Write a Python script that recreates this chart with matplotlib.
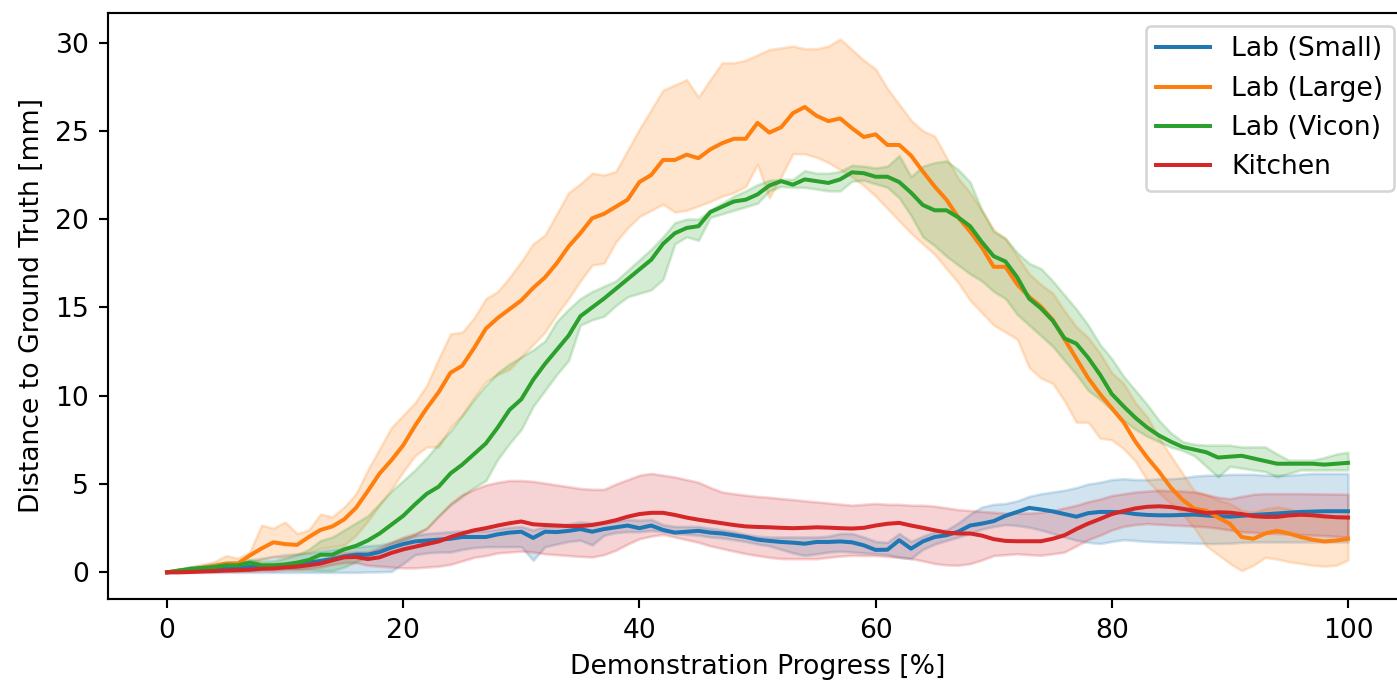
import numpy as np
import matplotlib
matplotlib.use("Agg")
import matplotlib.pyplot as plt

# demonstration progress in percent
progress = list(range(0, 101))

labels = ["Lab (Small)", "Lab (Large)", "Lab (Vicon)", "Kitchen"]
colors = ["tab:blue", "tab:orange", "tab:green", "tab:red"]

# Lab (Small)
small_mean = [0.0, 0.05, 0.1, 0.15, 0.2, 0.2, 0.25, 0.3, 0.3, 0.35,
              0.4, 0.5, 0.55, 0.65, 0.75, 0.9, 1.0, 1.0, 1.15, 1.4,
              1.6, 1.75, 1.8, 1.85, 1.9, 2.0, 2.0, 2.0, 2.15, 2.25,
              2.3, 1.95, 2.3, 2.28, 2.35, 2.45, 2.3, 2.45, 2.55, 2.65,
              2.5, 2.65, 2.4, 2.25, 2.3, 2.35, 2.25, 2.2, 2.1, 2.0,
              1.85, 1.78, 1.72, 1.68, 1.62, 1.72, 1.72, 1.75, 1.7, 1.53,
              1.27, 1.28, 1.82, 1.34, 1.75, 2.0, 2.1, 2.3, 2.65, 2.76,
              2.9, 3.2, 3.42, 3.65, 3.56, 3.45, 3.3, 3.15, 3.35, 3.42,
              3.42, 3.4, 3.3, 3.25, 3.23, 3.23, 3.25, 3.27, 3.22, 3.18,
              3.15, 3.2, 3.25, 3.29, 3.33, 3.38, 3.42, 3.44, 3.46, 3.46, 3.46]
small_upper = [0.0, 0.15, 0.3, 0.4, 0.5, 0.55, 0.6, 0.7, 0.8, 0.9,
               1.0, 1.05, 1.1, 1.2, 1.3, 1.4, 1.45, 1.5, 1.55, 1.7,
               1.9, 2.1, 2.2, 2.25, 2.3, 2.35, 2.35, 2.35, 2.45, 2.55,
               2.6, 2.4, 2.6, 2.6, 2.75, 2.85, 2.8, 2.8, 2.9, 3.0,
               2.95, 3.0, 2.7, 2.6, 2.6, 2.6, 2.5, 2.4, 2.3, 2.15,
               2.05, 2.0, 2.0, 2.0, 2.0, 2.0, 2.05, 2.2, 2.2, 2.0,
               1.75, 1.7, 2.2, 1.75, 2.05, 2.3, 2.4, 2.8, 3.3, 3.7,
               3.85, 3.9, 4.05, 4.3, 4.45, 4.55, 4.65, 4.8, 5.0, 5.1,
               5.25, 5.3, 5.25, 5.25, 5.3, 5.3, 5.35, 5.45, 5.5, 5.5,
               5.55, 5.55, 5.55, 5.5, 5.5, 5.5, 5.55, 5.6, 5.6, 5.6, 5.6]
small_lower = [0.0, 0.0, 0.0, 0.0, 0.0, 0.0, 0.0, 0.0, 0.0, 0.0,
               0.0, 0.0, 0.0, 0.0, 0.0, 0.0, 0.0, 0.02, 0.03, 0.05,
               0.5, 1.0, 1.1, 1.15, 1.15, 1.3, 1.4, 1.45, 1.45, 1.45,
               1.45, 0.68, 1.45, 1.6, 1.75, 1.82, 1.55, 2.1, 2.25, 2.3,
               2.3, 2.37, 2.3, 2.2, 2.15, 2.1, 2.0, 1.95, 1.85, 1.75,
               1.6, 1.5, 1.3, 1.1, 0.96, 1.05, 1.15, 1.2, 1.15, 1.1,
               1.05, 1.0, 0.85, 0.78, 1.3, 1.6, 1.8, 2.0, 2.2, 2.45,
               2.6, 2.7, 2.65, 2.55, 2.4, 2.2, 2.0, 1.82, 1.7, 1.63,
               1.75, 1.85, 1.8, 1.75, 1.72, 1.7, 1.68, 1.65, 1.63, 1.63,
               1.65, 1.7, 1.72, 1.72, 1.72, 1.72, 1.72, 1.72, 1.72, 1.72, 1.72]

# Lab (Large)
large_mean = [0.0, 0.1, 0.15, 0.25, 0.35, 0.5, 0.5, 0.95, 1.35, 1.7,
              1.6, 1.55, 2.0, 2.4, 2.6, 3.0, 3.65, 4.6, 5.6, 6.35,
              7.2, 8.3, 9.3, 10.2, 11.3, 11.7, 12.7, 13.8, 14.4, 14.9,
              15.4, 16.1, 16.7, 17.5, 18.45, 19.2, 20.05, 20.3, 20.7, 21.1,
              22.1, 22.5, 23.35, 23.35, 23.65, 23.45, 23.95, 24.3, 24.55, 24.55,
              25.45, 24.9, 25.2, 26.0, 26.35, 25.85, 25.55, 25.7, 25.15, 24.65,
              24.8, 24.2, 24.2, 23.6, 22.7, 21.85, 21.1, 20.1, 19.3, 18.4,
              17.3, 17.3, 16.3, 15.6, 15.05, 14.3, 13.2, 12.1, 11.0, 10.1,
              9.3, 8.5, 7.4, 6.5, 5.7, 4.8, 4.1, 3.6, 3.5, 3.1,
              2.75, 2.0, 1.9, 2.2, 2.35, 2.2, 2.0, 1.85, 1.75, 1.8, 1.9]
large_upper = [0.0, 0.2, 0.3, 0.45, 0.6, 0.95, 0.8, 1.15, 2.67, 2.5,
               2.85, 2.2, 2.4, 3.3, 3.15, 3.7, 4.45, 5.8, 7.0, 8.2,
               8.9, 9.6, 10.6, 12.1, 13.5, 13.6, 14.4, 15.5, 15.9, 16.7,
               17.6, 18.6, 19.1, 20.3, 21.5, 22.0, 22.6, 22.5, 22.7, 23.9,
               25.1, 26.2, 27.3, 27.6, 27.9, 26.9, 27.9, 28.85, 28.85, 29.0,
               29.3, 29.6, 29.7, 29.8, 29.65, 29.65, 29.8, 30.2, 29.6, 29.0,
               28.5, 27.4, 26.5, 25.6, 25.0, 24.7, 23.5, 22.3, 21.5, 20.5,
               19.4, 18.9, 17.9, 16.9, 16.3, 15.8, 14.8, 13.9, 13.3, 12.4,
               11.3, 10.7, 9.6, 8.8, 7.6, 6.6, 5.6, 4.6, 4.4, 4.1,
               3.9, 3.5, 3.4, 3.6, 3.7, 3.6, 3.4, 3.2, 3.1, 3.2, 3.3]
large_lower = [0.0, 0.05, 0.05, 0.1, 0.15, 0.25, 0.3, 0.5, 0.7, 0.9,
               0.85, 1.0, 1.1, 1.35, 1.45, 1.55, 2.1, 2.9, 3.8, 4.7,
               5.7, 6.6, 7.1, 7.1, 8.2, 8.9, 9.9, 10.8, 11.2, 11.5,
               12.2, 12.9, 13.6, 14.6, 15.5, 16.5, 17.4, 17.5, 18.7, 19.5,
               20.15, 20.5, 20.85, 20.4, 20.5, 20.75, 21.0, 21.3, 21.5, 21.85,
               23.1, 21.2, 22.4, 23.7, 23.7, 23.5, 23.2, 22.8, 22.4, 21.9,
               21.3, 20.6, 19.9, 19.2, 18.6, 18.0, 17.2, 16.4, 15.4, 14.7,
               14.0, 13.6, 13.2, 11.6, 11.0, 10.7, 9.7, 8.5, 8.5, 7.6,
               7.5, 7.0, 6.3, 5.2, 4.5, 3.9, 3.3, 2.5, 1.5, 1.0,
               0.5, 0.1, 0.4, 0.85, 0.75, 0.6, 0.5, 0.4, 0.35, 0.4, 0.7]

# Lab (Vicon)
vicon_mean = [0.0, 0.1, 0.2, 0.25, 0.3, 0.4, 0.4, 0.55, 0.4, 0.4,
              0.45, 0.55, 0.7, 1.0, 1.0, 1.3, 1.5, 1.8, 2.2, 2.7,
              3.2, 3.85, 4.45, 4.85, 5.6, 6.1, 6.7, 7.3, 8.2, 9.2,
              9.8, 10.9, 11.8, 12.6, 13.4, 14.5, 15.0, 15.5, 16.05, 16.6,
              17.15, 17.7, 18.6, 19.2, 19.5, 19.6, 20.4, 20.7, 21.0, 21.1,
              21.4, 21.9, 22.15, 21.95, 22.25, 22.15, 22.05, 22.25, 22.65, 22.6,
              22.4, 22.4, 22.1, 21.5, 20.8, 20.5, 20.5, 20.1, 19.6, 18.7,
              17.9, 17.6, 16.7, 15.5, 14.95, 14.25, 13.25, 12.95, 12.15, 11.2,
              10.1, 9.4, 8.75, 8.2, 7.75, 7.4, 7.1, 6.95, 6.8, 6.5,
              6.55, 6.6, 6.45, 6.3, 6.15, 6.15, 6.15, 6.15, 6.1, 6.15, 6.2]
vicon_upper = [0.0, 0.15, 0.3, 0.35, 0.45, 0.55, 0.55, 0.7, 0.6, 0.65,
               0.8, 1.0, 1.3, 1.8, 2.0, 2.4, 2.8, 3.2, 3.9, 4.6,
               5.2, 5.8, 6.5, 7.3, 8.0, 8.9, 9.8, 10.6, 11.3, 11.8,
               12.2, 12.6, 13.1, 14.2, 14.9, 15.5, 15.9, 16.2, 16.5, 17.1,
               17.7, 18.3, 19.0, 19.8, 20.0, 20.0, 20.5, 20.9, 21.3, 21.6,
               21.95, 22.2, 22.25, 22.25, 22.75, 22.6, 22.6, 22.7, 23.05, 23.0,
               22.9, 23.0, 23.6, 22.4, 23.0, 23.2, 23.3, 22.8, 22.1, 20.5,
               19.3, 18.9, 18.1, 17.5, 17.2, 16.5, 15.7, 14.9, 14.0, 12.9,
               12.1, 11.1, 10.3, 9.5, 8.6, 7.9, 7.4, 7.25, 7.2, 7.2,
               7.2, 7.1, 7.1, 7.1, 6.7, 6.35, 6.35, 6.35, 6.5, 6.7, 6.8]
vicon_lower = [0.0, 0.05, 0.1, 0.15, 0.2, 0.25, 0.25, 0.35, 0.25, 0.2,
               0.2, 0.15, 0.15, 0.1, 0.1, 0.3, 0.6, 0.9, 1.2, 1.5,
               1.8, 2.1, 2.5, 3.2, 3.8, 4.3, 4.8, 5.2, 6.4, 7.3,
               8.1, 9.4, 10.3, 11.2, 12.0, 14.0, 14.3, 14.5, 15.1, 15.6,
               15.8, 16.0, 16.6, 18.6, 19.0, 18.8, 20.1, 20.3, 20.5, 20.7,
               20.9, 21.6, 21.85, 21.8, 21.8, 21.7, 21.6, 21.6, 22.15, 22.2,
               22.0, 21.8, 21.2, 20.2, 19.0, 18.5, 17.9, 17.4, 16.9, 16.5,
               15.9, 15.5, 14.6, 14.0, 13.4, 12.8, 12.0, 11.2, 10.3, 9.8,
               9.2, 8.6, 8.1, 7.7, 7.4, 7.1, 6.9, 6.6, 6.0, 5.4,
               6.0, 5.9, 5.8, 5.7, 5.4, 5.6, 5.8, 5.8, 5.8, 5.8, 5.8]

# Kitchen
kitchen_mean = [0.0, 0.0, 0.02, 0.05, 0.07, 0.1, 0.12, 0.15, 0.2, 0.22,
                0.28, 0.32, 0.4, 0.5, 0.68, 0.85, 0.87, 0.75, 0.85, 1.1,
                1.3, 1.45, 1.6, 1.75, 2.0, 2.2, 2.38, 2.5, 2.65, 2.78,
                2.88, 2.72, 2.68, 2.65, 2.62, 2.62, 2.68, 2.8, 2.95, 3.15,
                3.3, 3.37, 3.37, 3.25, 3.1, 2.98, 2.88, 2.78, 2.68, 2.6,
                2.57, 2.55, 2.52, 2.5, 2.52, 2.55, 2.53, 2.5, 2.48, 2.52,
                2.65, 2.75, 2.8, 2.65, 2.52, 2.38, 2.25, 2.2, 2.2, 2.08,
                1.88, 1.78, 1.76, 1.76, 1.76, 1.9, 2.1, 2.45, 2.76, 3.02,
                3.3, 3.47, 3.62, 3.71, 3.74, 3.7, 3.6, 3.48, 3.36, 3.4,
                3.38, 3.3, 3.18, 3.14, 3.14, 3.22, 3.26, 3.23, 3.17, 3.12, 3.1]
kitchen_upper = [0.0, 0.05, 0.08, 0.1, 0.12, 0.15, 0.2, 0.25, 0.3, 0.35,
                 0.4, 0.45, 0.55, 0.7, 0.9, 1.1, 1.15, 1.15, 1.4, 1.7,
                 2.0, 2.2, 2.5, 3.2, 3.9, 4.4, 4.7, 4.95, 5.1, 5.2,
                 5.2, 5.15, 5.05, 4.95, 4.85, 4.75, 4.7, 4.7, 5.0, 5.25,
                 5.5, 5.6, 5.5, 5.4, 5.25, 5.1, 4.8, 4.55, 4.45, 4.37,
                 4.3, 4.25, 4.18, 4.12, 4.05, 3.99, 3.93, 3.86, 3.8, 3.85,
                 3.9, 3.85, 3.85, 3.8, 3.8, 3.75, 3.65, 3.55, 3.5, 3.45,
                 3.4, 3.35, 3.35, 3.35, 3.4, 3.5, 3.65, 3.8, 4.0, 4.15,
                 4.35, 4.45, 4.55, 4.6, 4.65, 4.62, 4.6, 4.55, 4.4, 4.25,
                 4.17, 4.3, 4.42, 4.46, 4.46, 4.46, 4.46, 4.45, 4.44, 4.43, 4.42]
kitchen_lower = [0.0, 0.0, 0.0, 0.02, 0.03, 0.05, 0.05, 0.07, 0.1, 0.1,
                 0.15, 0.18, 0.22, 0.3, 0.45, 0.55, 0.55, 0.4, 0.35, 0.3,
                 0.25, 0.25, 0.3, 0.35, 0.45, 0.65, 0.85, 0.95, 1.1, 1.15,
                 1.2, 1.15, 1.05, 1.0, 0.95, 0.9, 0.87, 1.0, 1.25, 1.6,
                 1.9, 2.05, 2.15, 2.0, 1.85, 1.7, 1.5, 1.35, 1.2, 1.06,
                 0.95, 0.85, 0.78, 0.77, 0.77, 0.77, 0.85, 0.92, 0.96, 0.95,
                 0.95, 0.9, 0.85, 0.78, 0.65, 0.5, 0.42, 0.4, 0.49, 0.7,
                 0.95, 1.0, 1.05, 1.0, 0.97, 1.05, 1.15, 1.5, 1.85, 2.1,
                 2.4, 2.6, 2.7, 2.76, 2.72, 2.68, 2.65, 2.62, 2.58, 2.5,
                 2.4, 2.3, 2.26, 2.22, 2.2, 2.17, 2.14, 2.11, 2.08, 2.04, 2.0]

means = [small_mean, large_mean, vicon_mean, kitchen_mean]
uppers = [small_upper, large_upper, vicon_upper, kitchen_upper]
lowers = [small_lower, large_lower, vicon_lower, kitchen_lower]

plt.rcParams["font.family"] = "DejaVu Sans"
plt.rcParams["font.size"] = 10

W, H, DPI = 1397, 684, 192
fig = plt.figure(figsize=(W / DPI, H / DPI), dpi=DPI)
# right spine sits just outside the cropped picture
ax = fig.add_axes([108 / W, (H - 599) / H, (1407 - 108) / W, (599 - 12.5) / H])

x = np.array(progress)
for mean, lo, hi, lab, col in zip(means, lowers, uppers, labels, colors):
    ax.plot(x, mean, color=col, lw=1.5, label=lab)
    ax.fill_between(x, lo, hi, color=col, alpha=0.2)

ax.set_xlim(-5, 105)
ax.set_ylim(-1.51, 31.7)
ax.set_xticks([0, 20, 40, 60, 80, 100])
ax.set_yticks([0, 5, 10, 15, 20, 25, 30])
ax.set_xlabel("Demonstration Progress [%]")
ax.set_ylabel("Distance to Ground Truth [mm]")
ax.legend(loc="upper right")

fig.savefig("out.png", dpi=DPI)
